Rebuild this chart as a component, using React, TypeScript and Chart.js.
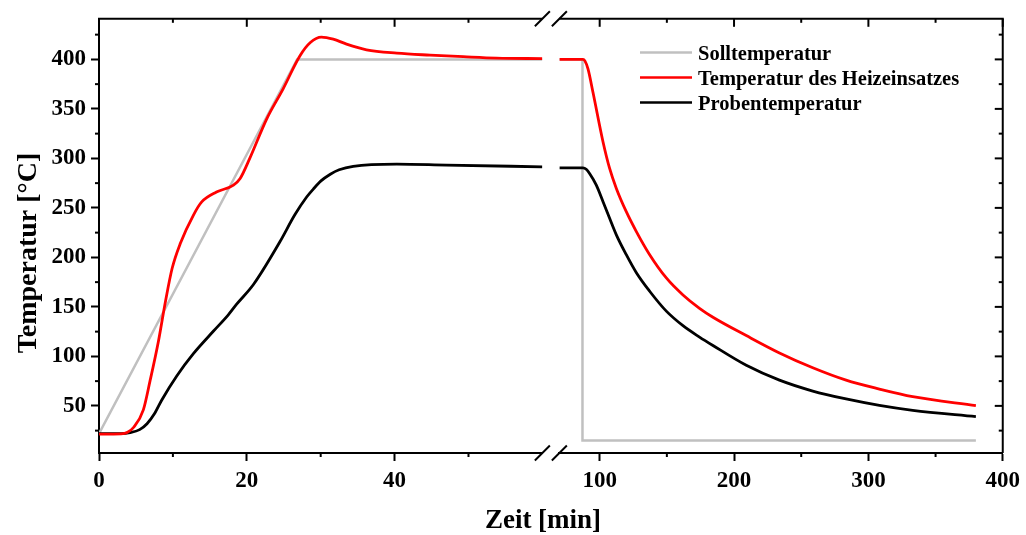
import React, { useEffect, useRef } from 'react';
import { Chart, registerables } from 'chart.js';

Chart.register(...registerables);

// ---------------- data ----------------
const seriesLabels = ['Solltemperatur', 'Temperatur des Heizeinsatzes', 'Probentemperatur'];
const seriesColors = ['#c0c0c0', '#ff0000', '#000000'];

// Solltemperatur (set point)
const setTimeLeft = [0, 26.8, 60];
const setTempLeft = [22, 400, 400];
const setTimeRight = [70, 87.2, 87.2, 380];
const setTempRight = [400, 400, 15, 15];

// Temperatur des Heizeinsatzes (heater)
const heaterTimeLeft = [0, 3, 3.8, 4.7, 6.0, 6.9, 8.05, 9.0, 9.9, 11.0, 12.8, 13.9, 15.9, 18.2, 19.1, 20.4, 22.7, 24.9, 27.2, 28.6, 30.1, 31.7, 33.5, 36.2, 40.3, 44.8, 49.3, 53.8, 60];
const heaterTempLeft = [21.5, 21.8, 23, 28.4, 46, 75, 115.6, 155.8, 189, 214, 243, 256, 266, 273, 279.7, 300, 340, 370, 403.7, 417, 422.5, 420.4, 415.4, 409.7, 406.3, 404.3, 402.7, 401.3, 400.8];
const heaterTimeRight = [70, 87.5, 89, 91.3, 95, 102.5, 107.4, 112.4, 119.8, 127.3, 137.2, 149.6, 162, 174.3, 184.3, 209.1, 233.8, 258.6, 283.4, 308.2, 333, 380];
const heaterTempRight = [400, 400, 398.5, 390.3, 366.8, 316.6, 289.8, 269.7, 246.2, 226.1, 202.7, 179.2, 162, 148.5, 139.5, 121, 103.5, 88.5, 76, 67, 59.3, 50.2];

// Probentemperatur (sample)
const sampleTimeLeft = [0, 3, 4.2, 5.5, 6.5, 7.5, 8.5, 10.5, 12.8, 15.5, 17.5, 18.6, 20.9, 24.5, 26.5, 28.1, 29, 30, 31.3, 32.5, 34.4, 40.3, 47, 60];
const sampleTempLeft = [22, 22, 23, 26, 32, 42, 56, 80, 103, 125.6, 142, 152.5, 172.6, 216, 243, 261, 269, 277, 284, 288.5, 292, 294.2, 293.2, 291.5];
const sampleTimeRight = [70, 87.5, 90, 92.6, 97.5, 102.5, 107.4, 112.4, 119.8, 127.3, 137.2, 149.6, 162, 174.3, 184.3, 209.1, 233.8, 258.6, 283.4, 308.2, 333, 380];
const sampleTempRight = [290.5, 290.5, 289, 284.5, 273, 256.3, 239.5, 222.8, 202.7, 184.5, 165.8, 145.7, 131, 119.5, 111, 91, 76, 65, 57, 50.5, 45.5, 39.2];

// axes
const xLeftRange = [0, 60];
const xRightRange = [70, 400];
const yRange = [2.4, 441];
const xLeftMajor = [0, 20, 40];
const xLeftMinor = [10, 30, 50];
const xRightMajor = [100, 200, 300, 400];
const xRightMinor = [150, 250, 350];
const yMajor = [50, 100, 150, 200, 250, 300, 350, 400];
const yMinor = [25, 75, 125, 175, 225, 275, 325, 375, 425];

const xTitle = 'Zeit [min]';
const yTitle = 'Temperatur [°C]';

const FONT = "'Liberation Serif', 'Times New Roman', serif";

const pts = (ts: number[], vs: number[]) => ts.map((t, i) => ({ x: t, y: vs[i] }));

const decorPlugin = {
  id: 'decor',
  afterLayout(chart: any) {
    const a = chart.chartArea;
    const xL = chart.scales.xL;
    const xR = chart.scales.xR;
    const gap = 17;
    const half = (a.right - a.left - gap) / 2;
    xL.left = a.left;
    xL.right = a.left + half;
    xL.width = half;
    xR.left = a.right - half;
    xR.right = a.right;
    xR.width = half;
    xL.configure();
    xR.configure();
  },
  afterDraw(chart: any) {
    const ctx = chart.ctx;
    const a = chart.chartArea;
    const xL = chart.scales.xL;
    const xR = chart.scales.xR;
    const y = chart.scales.y;
    ctx.save();
    ctx.strokeStyle = '#000';
    ctx.lineWidth = 2;
    const line = (x1: number, y1: number, x2: number, y2: number) => {
      ctx.beginPath();
      ctx.moveTo(x1, y1);
      ctx.lineTo(x2, y2);
      ctx.stroke();
    };
    // top frame (broken) and right frame
    line(xL.left - 1, a.top, xL.right, a.top);
    line(xR.left, a.top, xR.right + 1, a.top);
    line(a.right, a.top, a.right, a.bottom);
    // break marks
    for (const bx of [xL.right, xR.left]) {
      for (const by of [a.top, a.bottom]) {
        line(bx - 7.5, by + 7.5, bx + 7.5, by - 7.5);
      }
    }
    // top ticks (inward) + bottom minor ticks
    for (const [sc, maj, min] of [[xL, xLeftMajor, xLeftMinor], [xR, xRightMajor, xRightMinor]] as any) {
      for (const v of maj) {
        const px = sc.getPixelForValue(v);
        line(px, a.top, px, a.top + 8);
      }
      for (const v of min) {
        const px = sc.getPixelForValue(v);
        line(px, a.top, px, a.top + 4);
        line(px, a.bottom, px, a.bottom + 4);
      }
    }
    // right ticks (inward) and left minor ticks
    for (const v of yMajor) {
      const py = y.getPixelForValue(v);
      line(a.right, py, a.right - 8, py);
    }
    for (const v of yMinor) {
      const py = y.getPixelForValue(v);
      line(a.right, py, a.right - 4, py);
      line(a.left, py, a.left - 4, py);
    }
    // legend
    const legendRows = [60, 85, 110];
    ctx.font = `bold 20.5px ${FONT}`;
    ctx.textAlign = 'left';
    ctx.textBaseline = 'alphabetic';
    seriesLabels.forEach((lab, i) => {
      ctx.strokeStyle = seriesColors[i];
      ctx.lineWidth = 2.5;
      line(640, legendRows[i] - 7.5, 692, legendRows[i] - 7.5);
      ctx.fillStyle = '#000';
      ctx.fillText(lab, 698, legendRows[i]);
    });
    // axis titles
    ctx.fillStyle = '#000';
    ctx.font = `bold 27px ${FONT}`;
    ctx.textAlign = 'center';
    ctx.textBaseline = 'alphabetic';
    ctx.fillText(xTitle, 543, 528);
    ctx.save();
    ctx.translate(36, 253);
    ctx.rotate(-Math.PI / 2);
    ctx.font = `bold 28px ${FONT}`;
    ctx.fillText(yTitle, 0, 0);
    ctx.restore();
    ctx.restore();
  },
};

const tickFont = { family: FONT, size: 23, weight: 'bold' as const };

export default function App() {
  const ref = useRef<HTMLCanvasElement>(null);
  useEffect(() => {
    if (!ref.current) return;
    const common = { pointRadius: 0, pointHoverRadius: 0, borderWidth: 2.8, fill: false };
    const chart = new Chart(ref.current, {
      type: 'line',
      data: {
        datasets: [
          { ...common, borderWidth: 2.5, label: seriesLabels[0], data: pts(setTimeLeft, setTempLeft), xAxisID: 'xL', borderColor: seriesColors[0], tension: 0, order: 2 },
          { ...common, borderWidth: 2.5, label: seriesLabels[0], data: pts(setTimeRight, setTempRight), xAxisID: 'xR', borderColor: seriesColors[0], tension: 0, order: 2 },
          { ...common, label: seriesLabels[1], data: pts(heaterTimeLeft, heaterTempLeft), xAxisID: 'xL', borderColor: seriesColors[1], cubicInterpolationMode: 'monotone', order: 0 },
          { ...common, label: seriesLabels[1], data: pts(heaterTimeRight, heaterTempRight), xAxisID: 'xR', borderColor: seriesColors[1], cubicInterpolationMode: 'monotone', order: 0 },
          { ...common, label: seriesLabels[2], data: pts(sampleTimeLeft, sampleTempLeft), xAxisID: 'xL', borderColor: seriesColors[2], cubicInterpolationMode: 'monotone', order: 1 },
          { ...common, label: seriesLabels[2], data: pts(sampleTimeRight, sampleTempRight), xAxisID: 'xR', borderColor: seriesColors[2], cubicInterpolationMode: 'monotone', order: 1 },
        ] as any,
      },
      options: {
        animation: false,
        responsive: false,
        events: [],
        layout: { padding: { left: 0, top: 16, right: 22, bottom: 0 } },
        plugins: { legend: { display: false }, tooltip: { enabled: false }, title: { display: false } },
        scales: {
          xL: {
            type: 'linear',
            position: 'bottom',
            stack: 'time',
            stackWeight: 1,
            min: xLeftRange[0],
            max: xLeftRange[1],
            afterBuildTicks: (s: any) => { s.ticks = xLeftMajor.map((v) => ({ value: v })); },
            afterFit: (s: any) => { s.height = 82; },
            ticks: { autoSkip: false, maxRotation: 0, minRotation: 0, padding: 6, color: '#000', font: tickFont },
            grid: { display: true, drawOnChartArea: false, drawTicks: true, tickLength: 8, tickWidth: 2, tickColor: '#000' },
            border: { display: true, color: '#000', width: 2 },
          },
          xR: {
            type: 'linear',
            position: 'bottom',
            stack: 'time',
            stackWeight: 1,
            min: xRightRange[0],
            max: xRightRange[1],
            afterBuildTicks: (s: any) => { s.ticks = xRightMajor.map((v) => ({ value: v })); },
            afterFit: (s: any) => { s.height = 82; },
            ticks: { autoSkip: false, maxRotation: 0, minRotation: 0, padding: 6, color: '#000', font: tickFont },
            grid: { display: true, drawOnChartArea: false, drawTicks: true, tickLength: 8, tickWidth: 2, tickColor: '#000' },
            border: { display: true, color: '#000', width: 2 },
          },
          y: {
            type: 'linear',
            position: 'left',
            min: yRange[0],
            max: yRange[1],
            afterBuildTicks: (s: any) => { s.ticks = yMajor.map((v) => ({ value: v })); },
            afterFit: (s: any) => { s.width = 99; },
            ticks: { padding: 5, color: '#000', font: tickFont },
            grid: { display: true, drawOnChartArea: false, drawTicks: true, tickLength: 8, tickWidth: 2, tickColor: '#000' },
            border: { display: true, color: '#000', width: 2 },
            title: { display: false, text: yTitle },
          },
        },
      } as any,
      plugins: [decorPlugin],
    });
    return () => chart.destroy();
  }, []);
  return (
    <div style={{ position: 'fixed', left: 0, top: 0, width: 1026, height: 535, background: '#fff' }}>
      <canvas ref={ref} width={1026} height={535} style={{ display: 'block' }} />
    </div>
  );
}
